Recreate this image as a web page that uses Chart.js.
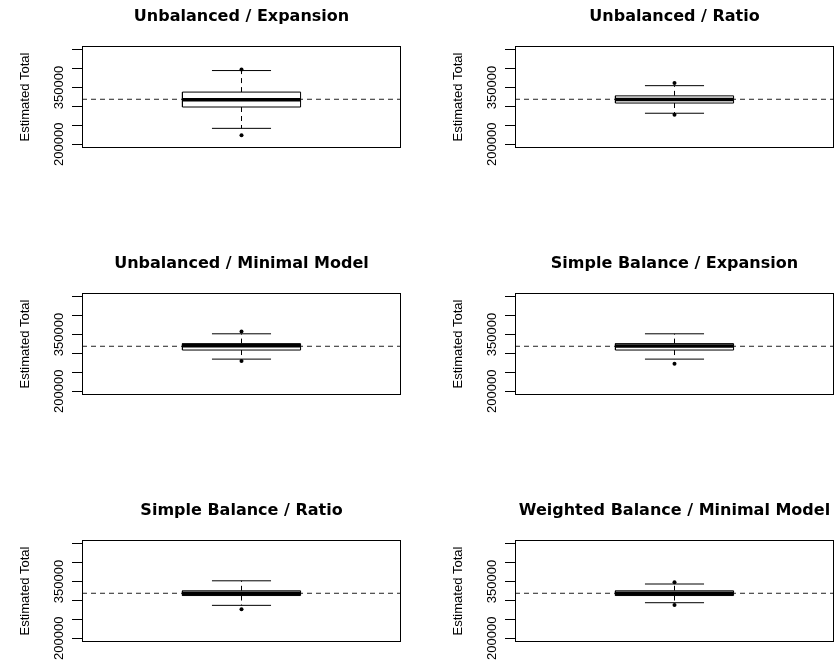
<!DOCTYPE html>
<html>
<head>
<meta charset="utf-8">
<title>Estimated Total boxplots</title>
<script src="https://cdn.jsdelivr.net/npm/chart.js@4.4.1/dist/chart.umd.min.js"></script>
<style>
  html, body { margin: 0; padding: 0; background: #fff; overflow: hidden; }
  #page { position: relative; width: 836px; height: 660px; overflow: hidden; background: #fff; }
  .panel { position: absolute; width: 483px; height: 175px; }
  .panel canvas { display: block; }
</style>
</head>
<body>
<div id="page">
  <div class="panel" style="left:0px;top:0px"><canvas id="c0" width="483" height="175"></canvas></div>
  <div class="panel" style="left:433px;top:0px"><canvas id="c1" width="483" height="175"></canvas></div>
  <div class="panel" style="left:0px;top:247px"><canvas id="c2" width="483" height="175"></canvas></div>
  <div class="panel" style="left:433px;top:247px"><canvas id="c3" width="483" height="175"></canvas></div>
  <div class="panel" style="left:0px;top:494px"><canvas id="c4" width="483" height="175"></canvas></div>
  <div class="panel" style="left:433px;top:494px"><canvas id="c5" width="483" height="175"></canvas></div>
</div>
<script>
const panelTitles = [
  "Unbalanced / Expansion",
  "Unbalanced / Ratio",
  "Unbalanced / Minimal Model",
  "Simple Balance / Expansion",
  "Simple Balance / Ratio",
  "Weighted Balance / Minimal Model"
];
const lowerWhisker = [242000, 282000, 285000, 285000, 287000, 294000];
const q1 = [298500, 309000, 309000, 309000, 313000, 313000];
const medians = [317500, 318500, 320500, 320000, 319000, 319000];
const q3 = [338000, 328000, 326000, 326000, 325500, 325500];
const upperWhisker = [395000, 355000, 352000, 352000, 352000, 343500];
const outliers = [
  [398000, 224000],
  [362000, 278000],
  [358000, 280000],
  [272500],
  [277000],
  [348000, 288000]
];
const trueTotal = 319000;
const yTicks = [200000, 250000, 300000, 350000, 400000, 450000];
const yTickLabels = ["200000", "", "", "350000", "", ""];

Chart.defaults.font.family = '"Liberation Sans", Arial, sans-serif';
Chart.defaults.font.size = 13;
Chart.defaults.color = "#000";

// full frame round the plot region, like box() in R
const plotBox = {
  id: "plotBox",
  afterDatasetsDraw(chart) {
    const { ctx, chartArea: a } = chart;
    ctx.save();
    ctx.strokeStyle = "#000";
    ctx.lineWidth = 1;
    ctx.strokeRect(Math.round(a.left) + 0.5, Math.round(a.top) + 0.5,
      Math.round(a.right - a.left) - 1, Math.round(a.bottom - a.top) - 1);
    ctx.restore();
  }
};

function segment(points, extra) {
  return Object.assign({
    data: points,
    showLine: true,
    pointRadius: 0,
    borderColor: "#000",
    borderWidth: 1,
    fill: false
  }, extra || {});
}

function createBoxChart(canvas, i) {
  const mid = 1, boxL = 0.8, boxR = 1.2, capL = 0.9, capR = 1.1;
  const dash = [5, 4];

  return new Chart(canvas, {
    type: "scatter",
    data: {
      datasets: [
        {
          data: outliers[i].map(v => ({ x: mid, y: v })),
          pointRadius: 2,
          backgroundColor: "#000",
          borderColor: "#000",
          borderWidth: 0
        },
        segment([{ x: boxL, y: medians[i] }, { x: boxR, y: medians[i] }], { borderWidth: 3.5 }),
        segment([
          { x: boxL, y: q1[i] }, { x: boxR, y: q1[i] },
          { x: boxR, y: q3[i] }, { x: boxL, y: q3[i] }, { x: boxL, y: q1[i] }
        ], { fill: "shape", backgroundColor: "#fff" }),
        segment([{ x: capL, y: upperWhisker[i] }, { x: capR, y: upperWhisker[i] }]),
        segment([{ x: capL, y: lowerWhisker[i] }, { x: capR, y: lowerWhisker[i] }]),
        segment([{ x: mid, y: q3[i] }, { x: mid, y: upperWhisker[i] }], { borderDash: dash }),
        segment([{ x: mid, y: q1[i] }, { x: mid, y: lowerWhisker[i] }], { borderDash: dash }),
        segment([{ x: 0.46, y: trueTotal }, { x: 1.54, y: trueTotal }], { borderDash: dash, borderColor: "#222" })
      ]
    },
    options: {
      responsive: false,
      animation: false,
      events: [],
      layout: { padding: { left: 0, right: 0, top: 0, bottom: 27 } },
      plugins: {
        legend: { display: false },
        tooltip: { enabled: false },
        title: {
          display: true,
          text: panelTitles[i],
          color: "#000",
          font: { family: '"DejaVu Sans", sans-serif', size: 16, weight: "bold", lineHeight: 1.25 },
          padding: { top: 7, bottom: 19 }
        }
      },
      scales: {
        x: { type: "linear", min: 0.46, max: 1.54, display: false },
        y: {
          min: 190000,
          max: 460000,
          afterBuildTicks: s => { s.ticks = yTicks.map(v => ({ value: v })); },
          afterFit: s => { s.width = 82; s.paddingTop = 0; s.paddingBottom = 0; },
          ticks: {
            autoSkip: false,
            minRotation: 90,
            crossAlign: "center",
            padding: -9,
            color: "#000",
            font: { size: 13 },
            callback: (v, idx) => yTickLabels[idx]
          },
          grid: { drawOnChartArea: false, drawTicks: true, tickLength: 10, color: "#000" },
          border: { display: false },
          title: {
            display: true,
            text: "Estimated Total",
            color: "#000",
            font: { size: 13 },
            padding: { top: 18, bottom: 0 }
          }
        },
        yRight: {
          axis: "y",
          position: "right",
          afterFit: s => { s.width = 82; s.paddingTop = 0; s.paddingBottom = 0; },
          ticks: { display: false },
          grid: { display: false },
          border: { display: false }
        }
      }
    },
    plugins: [plotBox]
  });
}

document.addEventListener("DOMContentLoaded", () => {
  panelTitles.forEach((t, i) => createBoxChart(document.getElementById("c" + i), i));
});
</script>
</body>
</html>
